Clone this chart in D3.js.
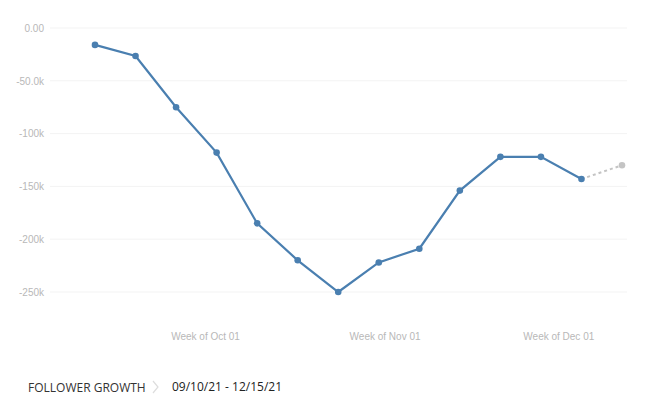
<!DOCTYPE html>
<html>
<head>
<meta charset="utf-8">
<script src="https://d3js.org/d3.v7.min.js"></script>
<style>
body { margin: 0; background: #fff; font-family: "Open Sans", "Noto Sans", sans-serif; }
.tick text { fill: #b8b8b8; font-size: 10px; }
</style>
</head>
<body>
<script>
// weekly follower growth, first point week of Sep 12
var weekStarts = ["2021-09-12","2021-09-19","2021-09-26","2021-10-03","2021-10-10","2021-10-17","2021-10-24",
    "2021-10-31","2021-11-07","2021-11-14","2021-11-21","2021-11-28","2021-12-05","2021-12-12"];
var growth = [-16000, -26500, -75000, -118000, -185000, -220000, -250000,
    -222000, -209000, -154000, -122000, -122000, -143000, -130000];
var yTicks = [0, -50000, -100000, -150000, -200000, -250000];
var yTickLabels = ["0.00", "-50.0k", "-100k", "-150k", "-200k", "-250k"];
var xTicks = ["2021-10-01", "2021-11-01", "2021-12-01"];
var xTickLabels = ["Week of Oct 01", "Week of Nov 01", "Week of Dec 01"];

var parse = d3.timeParse("%Y-%m-%d");
var data = weekStarts.map(function(d, i) { return { date: parse(d), value: growth[i] }; });

var svg = d3.select("body").append("svg").attr("width", 667).attr("height", 411);

var x = d3.scaleTime().domain([data[0].date, data[data.length - 1].date]).range([95, 622]);
var y = d3.scaleLinear().domain([-250000, 0]).range([292, 28]);

// y axis + grid
var yAxis = svg.append("g")
    .attr("transform", "translate(50,0)")
    .call(d3.axisLeft(y).tickValues(yTicks).tickSize(0).tickPadding(6)
        .tickFormat(function(d, i) { return yTickLabels[i]; }));
yAxis.select(".domain").remove();
svg.append("g").selectAll("line").data(yTicks).enter().append("line")
    .attr("x1", 50).attr("x2", 627)
    .attr("y1", d => y(d)).attr("y2", d => y(d))
    .attr("stroke", "#f3f3f3");

// x axis
var xAxis = svg.append("g")
    .attr("transform", "translate(0,330)")
    .call(d3.axisBottom(x).tickValues(xTicks.map(parse)).tickSize(0).tickPadding(3)
        .tickFormat(function(d, i) { return xTickLabels[i]; }));
xAxis.select(".domain").remove();

var line = d3.line().x(d => x(d.date)).y(d => y(d.value));
var solid = data.slice(0, data.length - 1);
var tail = data.slice(data.length - 2);

svg.append("path").datum(solid).attr("d", line)
    .attr("fill", "none").attr("stroke", "#4a7fb0").attr("stroke-width", 2.2);
svg.append("path").datum(tail).attr("d", line)
    .attr("fill", "none").attr("stroke", "#c4c4c4").attr("stroke-width", 2)
    .attr("stroke-dasharray", "3,3");

svg.selectAll("circle").data(data).enter().append("circle")
    .attr("cx", d => x(d.date)).attr("cy", d => y(d.value)).attr("r", 3.3)
    .attr("fill", (d, i) => i === data.length - 1 ? "#c4c4c4" : "#4a7fb0");

// footer
svg.append("text").attr("x", 28).attr("y", 392)
    .attr("font-size", 12).attr("fill", "#333").text("FOLLOWER GROWTH");
svg.append("path").attr("d", "M153,381 L158,387 L153,393")
    .attr("fill", "none").attr("stroke", "#ddd").attr("stroke-width", 1.2);
svg.append("text").attr("x", 172).attr("y", 391)
    .attr("font-size", 12).attr("fill", "#222").text("09/10/21 - 12/15/21");
</script>
</body>
</html>
